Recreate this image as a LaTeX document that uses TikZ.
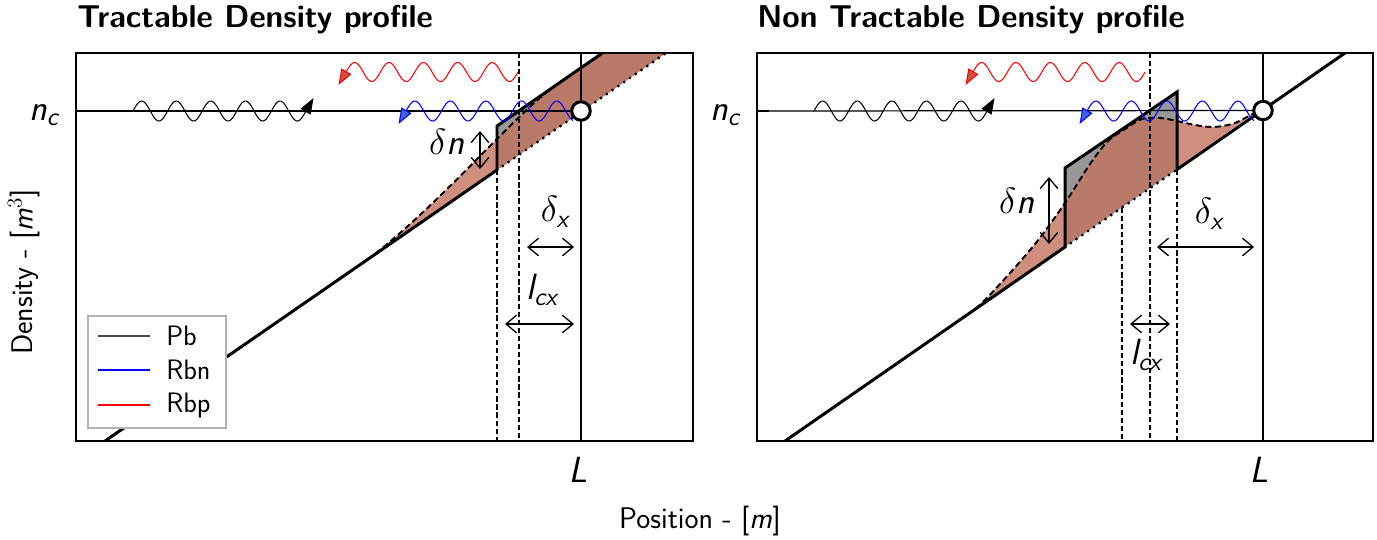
\documentclass[tikz,border=0pt]{standalone}
\usepackage{amsmath}
\usetikzlibrary{arrows.meta}
\renewcommand{\familydefault}{\sfdefault}
\DeclareMathAlphabet{\mathsfit}{OT1}{cmss}{m}{sl}
\definecolor{lightfill}{RGB}{208,142,126}
\definecolor{darkfill}{RGB}{186,122,106}
\definecolor{grayfill}{RGB}{152,152,152}
\definecolor{redhead}{RGB}{205,80,70}
\definecolor{bluehead}{RGB}{60,100,220}
\begin{document}
\begin{tikzpicture}[x=0.02cm, y={(0cm,-0.02cm)},
  frame/.style={line width=1.25pt},
  profile/.style={line width=1.7pt, line join=miter},
  thinline/.style={line width=0.7pt},
  vdash/.style={line width=0.6pt, dash pattern=on 3pt off 1.6pt},
  curvedash/.style={line width=1.1pt, dash pattern=on 3.5pt off 2pt},
  dotline/.style={line width=1.8pt, dash pattern=on 0pt off 4pt, line cap=round},
  wave/.style={line width=0.6pt},
  legl/.style={line width=0.8pt},
  dim/.style={line width=0.75pt, {Straight Barb[length=6pt,width=10pt]}-{Straight Barb[length=6pt,width=10pt]}},
  lab/.style={font=\fontsize{20}{24}\selectfont, inner sep=0pt},
  ttl/.style={font=\fontsize{18}{22}\selectfont\bfseries, inner sep=0pt, anchor=base west},
  axl/.style={font=\fontsize{17}{20}\selectfont, inner sep=0pt},
  legt/.style={font=\fontsize{16}{19}\selectfont, inner sep=0pt, anchor=west},
  circ/.style={circle, draw, fill=white, line width=1.7pt, minimum size=0.37cm, inner sep=0pt},
  bhead/.style={-{Triangle[length=9pt,width=6.5pt]}},
  rhead/.style={-{Triangle[length=9pt,width=6.5pt,fill=redhead]}},
  uhead/.style={-{Triangle[length=9pt,width=6.5pt,fill=bluehead]}}
]
\useasboundingbox (0,0) rectangle (1377,539);

% ================= LEFT PANEL =================
\fill[lightfill] (360,264.8) .. controls (430,216) and (515,113.5) .. (555,86) -- (555,129.9) -- cycle;
\begin{scope}
  \clip (497,40) rectangle (700,450);
  \fill[grayfill] (497,126) -- (602,53.3) -- (666,53) -- (497,170) -- cycle;
  \fill[darkfill] (360,264.8) .. controls (430,216) and (515,113.5) .. (555,86) -- (602,53.3) -- (666,53) -- cycle;
\end{scope}

\coordinate (ncL0) at (76,111);
\coordinate (cLc) at (581,111);
\draw[thinline] (ncL0) -- (cLc);
\draw[thinline] (581,53) -- (581,441);
\draw[vdash] (497,170) -- (497,441);
\draw[vdash] (519,53) -- (519,441);

\draw[profile] (105,441) -- (497,170) -- (497,126) -- (602,53.3);
\draw[dotline] (497,170) -- (666,53);
\draw[curvedash] (360,264.8) .. controls (430,216) and (515,113.5) .. (555,86);

\draw[wave, bhead] plot[domain=133:306, samples=140] (\x,{111-10*sin((\x-133)/34.6*360)}) -- ++(7.5,-13);
\draw[wave, red, rhead] plot[domain=518:346, samples=140] (\x,{72-9.5*sin((\x-346)/34.4*360)}) -- ++(-7.5,13);
\draw[wave, blue, uhead] plot[domain=573:406, samples=140] (\x,{111-10*sin((\x-406)/35.5*360)}) -- ++(-7.5,13);

\node[circ] (cL) at (cLc) {};

\coordinate (dnL1) at (480,131); \coordinate (dnL2) at (480,169);
\coordinate (dxL1) at (527,247); \coordinate (dxL2) at (574,247);
\coordinate (lcL1) at (505,324); \coordinate (lcL2) at (574,324);
\draw[dim] (dnL1) -- (dnL2);
\draw[dim] (dxL1) -- (dxL2);
\draw[dim] (lcL1) -- (lcL2);
\node[lab] (dnLlab) at (447,142) {$\delta\mathsfit{n}$};
\node[lab] (dxLlab) at (556,212) {$\delta_{\mathsfit{x}}$};
\node[lab] (lcLlab) at (543,290) {$\mathsfit{l}_{\mathsfit{cx}}$};
\node[lab] (ncLlab) at (45,115) {$\mathsfit{n}_{\mathsfit{c}}$};
\node[lab] (LLlab) at (578,470) {$\mathsfit{L}$};

\node[draw=gray!60, fill=white, line width=0.6pt, minimum width=2.76cm, minimum height=2.24cm, inner sep=0pt] (leg) at (157,372) {};
\coordinate (lg1a) at (98,336); \coordinate (lg1b) at (150,336);
\coordinate (lg2a) at (98,370); \coordinate (lg2b) at (150,370);
\coordinate (lg3a) at (98,405); \coordinate (lg3b) at (150,405);
\draw[legl, black!70] (lg1a) -- (lg1b);
\draw[legl, blue] (lg2a) -- (lg2b);
\draw[legl, red] (lg3a) -- (lg3b);
\node[legt] (lgt1) at (166,336) {Pb};
\node[legt] (lgt2) at (166,370) {Rbn};
\node[legt] (lgt3) at (166,405) {Rbp};

\draw[frame] (76,53) rectangle (693,441);
\draw[frame] (76,111) -- (88,111);
\draw[frame] (581,441) -- (581,431);
\node[ttl] (t1) at (77,27) {Tractable Density profile};

% ================= RIGHT PANEL =================
\fill[lightfill] plot[smooth, tension=0.55] coordinates {(960,319.7) (978,306.5) (1000,284) (1035,244) (1065,203) (1090,164) (1108,141) (1125,129) (1142,119) (1160,118) (1177,121) (1195,125) (1213,127) (1232,124) (1247,117) (1258,111)} -- cycle;
\begin{scope}
  \clip (1065,40) rectangle (1177,450);
  \fill[grayfill] (1065,168) -- (1177,92) -- (1177,169.5) -- (1065,247) -- cycle;
  \fill[darkfill] plot[smooth, tension=0.55] coordinates {(960,319.7) (978,306.5) (1000,284) (1035,244) (1065,203) (1090,164) (1108,141) (1125,129) (1142,119) (1160,118) (1177,121) (1195,125) (1213,127) (1232,124) (1247,117) (1258,111)} -- cycle;
\end{scope}

\coordinate (ncR0) at (757,111);
\coordinate (cRc) at (1263,110.5);
\draw[thinline] (ncR0) -- (cRc);
\draw[thinline] (1263,53) -- (1263,441);
\draw[vdash] (1122,207.6) -- (1122,441);
\draw[vdash] (1150,53) -- (1150,441);
\draw[vdash] (1177,169.5) -- (1177,441);

\draw[profile] (785,441) -- (1065,247) -- (1065,168) -- (1177,92) -- (1177,169.5) -- (1345,53);
\draw[dotline] (1065,247) -- (1177,169.5);
\draw[curvedash] plot[smooth, tension=0.55] coordinates {(960,319.7) (978,306.5) (1000,284) (1035,244) (1065,203) (1090,164) (1108,141) (1125,129) (1142,119) (1160,118) (1177,121) (1195,125) (1213,127) (1232,124) (1247,117) (1258,111)};

\draw[wave, bhead] plot[domain=814:987, samples=140] (\x,{111-10*sin((\x-814)/34.6*360)}) -- ++(7.5,-13);
\draw[wave, red, rhead] plot[domain=1145:973, samples=140] (\x,{72-9.5*sin((\x-973)/34.4*360)}) -- ++(-7.5,13);
\draw[wave, blue, uhead] plot[domain=1254:1087, samples=140] (\x,{111-10*sin((\x-1087)/35.5*360)}) -- ++(-7.5,13);

\node[circ] (cR) at (cRc) {};

\coordinate (dnR1) at (1049,177); \coordinate (dnR2) at (1049,244);
\coordinate (dxR1) at (1157,247); \coordinate (dxR2) at (1254,247);
\coordinate (lcR1) at (1130,324); \coordinate (lcR2) at (1170,324);
\draw[dim] (dnR1) -- (dnR2);
\draw[dim] (dxR1) -- (dxR2);
\draw[dim] (lcR1) -- (lcR2);
\node[lab] (dnRlab) at (1017,201) {$\delta\mathsfit{n}$};
\node[lab] (dxRlab) at (1210,214) {$\delta_{\mathsfit{x}}$};
\node[lab] (lcRlab) at (1147,355) {$\mathsfit{l}_{\mathsfit{cx}}$};
\node[lab] (ncRlab) at (726,115) {$\mathsfit{n}_{\mathsfit{c}}$};
\node[lab] (LRlab) at (1259,470) {$\mathsfit{L}$};

\draw[frame] (757,53) rectangle (1373,441);
\draw[frame] (757,111) -- (769,111);
\draw[frame] (1263,441) -- (1263,431);
\node[ttl] (t2) at (757,27) {Non Tractable Density profile};

\node[axl] (xlab) at (700,521) {Position - [$\mathsfit{m}$]};
\node[axl, rotate=90] (ylab) at (24,272) {Density - [$\mathsfit{m}^{3}$]};
\end{tikzpicture}
\end{document}
